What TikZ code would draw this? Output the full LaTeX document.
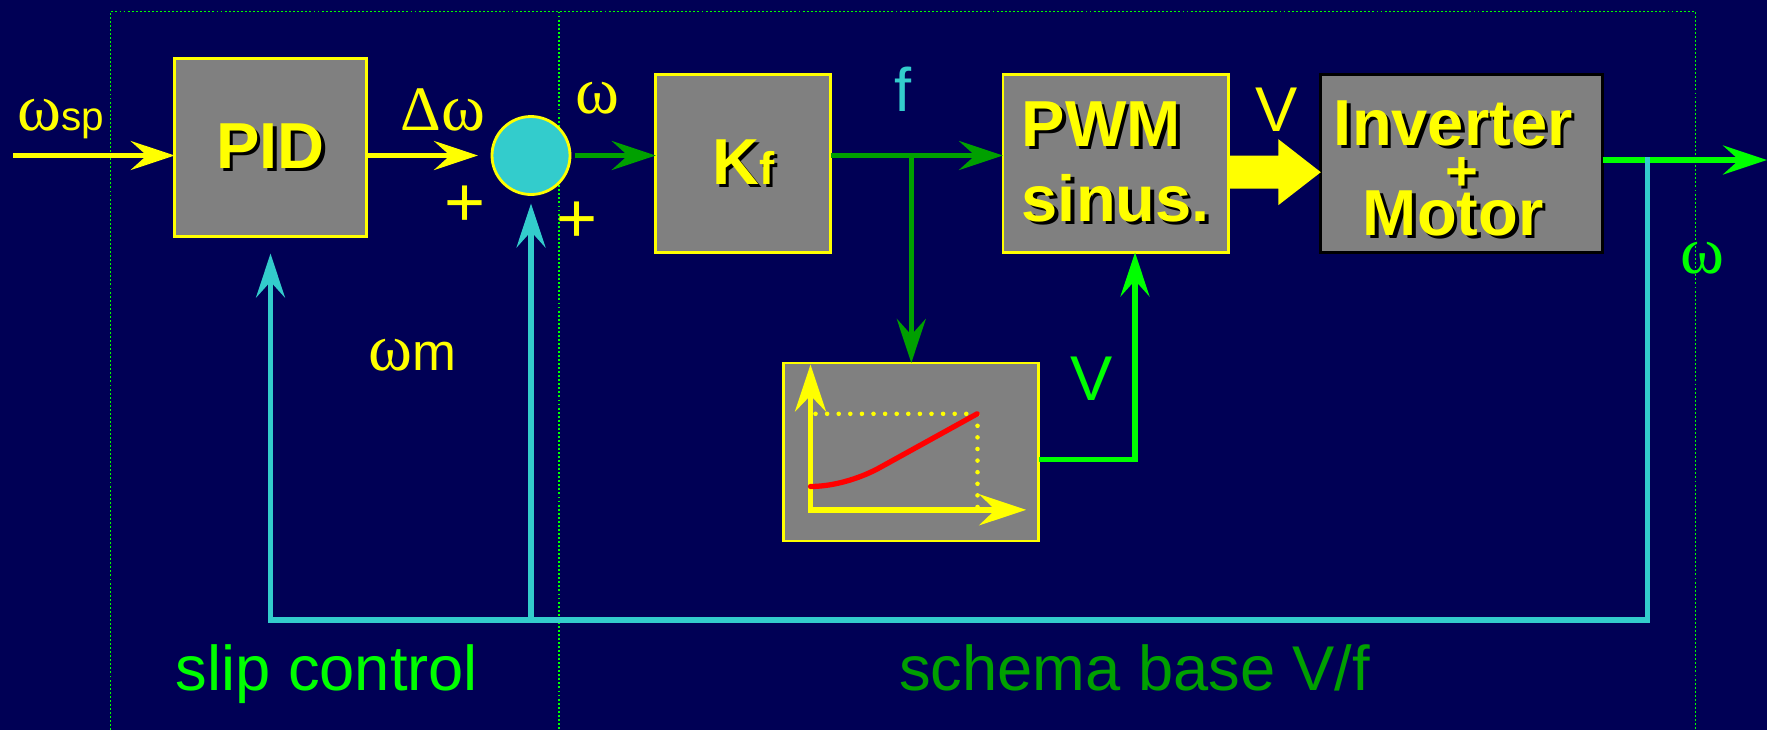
\documentclass[tikz,border=0pt]{standalone}
\usepackage{fontspec}
\setmainfont{Liberation Sans}
\newfontfamily\grk{Liberation Serif}
\usepackage{xcolor}
\definecolor{bgcolor}{HTML}{000055}
\definecolor{ylw}{HTML}{FFFF00}
\definecolor{boxgray}{HTML}{808080}
\definecolor{sumcyan}{HTML}{33CCCC}
\definecolor{darkgreen}{HTML}{00A000}
\definecolor{brightgreen}{HTML}{00FF00}
\definecolor{curvered}{HTML}{FF0000}
\usetikzlibrary{positioning,arrows.meta,calc}
\newcommand{\setfs}[1]{\fontsize{#1}{#1}\selectfont}
\newcommand{\shad}[1]{\makebox[0pt][l]{\kern1pt\raisebox{-1pt}{\color{black}#1}}#1}
\newcommand{\tightlines}{\setlength{\lineskiplimit}{-50pt}}
\tikzset{
    block/.style={
        rectangle,
        draw=ylw,
        fill=boxgray,
        text=ylw,
        minimum height=1.78cm,
        align=center,
        line width=0.8pt,
        inner sep=0pt,
        outer sep=0pt,
        font=\fontsize{18.5}{21.3}\selectfont\bfseries,
    },
    sumnode/.style={
        circle,
        draw=ylw,
        fill=sumcyan,
        minimum size=0.78cm,
        line width=0.8pt,
        inner sep=0pt,
        outer sep=0pt,
    },
    yarrow/.style={
        ->,
        line width=1.45pt,
        ylw,
    },
    garrow/.style={
        ->,
        line width=1.45pt,
        darkgreen,
    },
    barrow/.style={
        ->,
        line width=1.45pt,
        brightgreen,
    },
    fback/.style={
        line width=1.45pt,
        sumcyan,
    },
    frame/.style={
        draw=brightgreen,
        line width=0.45pt,
        dash pattern=on 0.55pt off 0.6pt,
    },
    lbl/.style={
        inner sep=0pt,
        font=\setfs{18},
    },
}

\begin{document}
\begin{tikzpicture}[>={Stealth[length=4.4mm,width=2.9mm,inset=1.6mm]}]
    \useasboundingbox (0,0) rectangle (17.67,-7.30);
    \fill[bgcolor] (0,0) rectangle (17.67,-7.30);

    % Frames
    \draw[frame] (1.105,-7.30) |- (16.956,-0.115) -- (16.956,-7.30);
    \draw[frame] (5.592,-0.115) -- (5.592,-7.30);

    % Blocks
    \node[block, minimum width=1.75cm] (kf) at (7.433,-1.634) {\shad{K\setfs{13}f}};
    \node[block, minimum width=2.254cm, right=1.722cm of kf, align=left] (pwm) {\shad{PWM}\\\shad{sinus.}};
    \node[block, draw=black, minimum width=2.818cm, right=0.924cm of pwm,
          font={\fontsize{18.5}{12.8}\selectfont\bfseries\tightlines}]
          (inv) {\rule{0pt}{0.58cm}\shad{Inverter}\hspace*{0.17cm}\\{\setfs{16}\shad{+}}\hspace*{0.17cm}\\\shad{Motor}\hspace*{0.17cm}};
    \node[sumnode, left=0.858cm of kf, yshift=0.079cm] (sum) {};
    \node[block, minimum width=1.916cm, left=1.257cm of sum, yshift=0.079cm] (pid) {\shad{PID}};
    \node[block, minimum width=2.55cm, below=1.105cm of kf, xshift=1.68cm] (vf) {};

    % V/f curve
    \begin{scope}[shift={(vf.center)}]
        \draw[ylw, line width=1.3pt, line cap=round, dash pattern=on 0pt off 3.3pt] (-0.958,0.381) -- (0.662,0.381) -- (0.662,-0.579);
        \draw[ylw, line width=1.6pt, <->, >={Stealth[length=4.7mm,width=3.1mm,inset=1.6mm]}] (-1.008,0.874) -- (-1.008,-0.579) -- (1.149,-0.579);
        \draw[curvered, line width=1.5pt, line cap=round] (-1.008,-0.346) .. controls (-0.75,-0.345) and (-0.48,-0.25) .. (-0.308,-0.153) -- (0.659,0.381);
    \end{scope}

    % Connections
    \coordinate (win) at (0.135,-1.555);
    \draw[yarrow] (win) -- (win -| pid.west);
    \draw[yarrow, shorten >=0.14cm] (pid.east |- sum) -- (sum.west);
    \draw[garrow, shorten <=0.05cm] (sum.east) -- (kf.west |- sum);
    \draw[garrow] (kf.east |- sum) -- (pwm.west |- sum);
    \coordinate (split) at (vf.north |- sum);
    \draw[garrow] (split) -- (vf.north);
    \coordinate (vtap) at (11.35,-4.598);
    \draw[barrow] (vf.east |- vtap) -| (pwm.south -| vtap);
    \fill[ylw] ($(pwm.east)+(0,0.077)$) -- ++(0.50,0) -- ++(0,0.165) -- ($(inv.west)+(0,-0.088)$)
        -- ++(-0.425,-0.33) -- ++(0,0.165) -- ($(pwm.east)+(0,-0.253)$) -- cycle;
    \coordinate (wout) at (17.67,-1.60);
    \draw[barrow] (inv.east |- wout) -- (wout);

    % Feedback
    \coordinate (tap) at (16.474,-1.57);
    \coordinate (fb) at (16.474,-6.20);
    \draw[fback, ->, shorten >=0.17cm] (tap) -- (fb) -| (pid.south);
    \draw[fback, ->, shorten >=0.09cm] (fb -| sum) -- (sum.south);

    % Labels
    \node[lbl, anchor=base west, text=ylw] (lwsp) at (0.17,-1.30) {{\grk\setfs{19}ω}{\setfs{11.5}sp}};
    \node[lbl, anchor=base west, text=ylw] (ldw) at (4.00,-1.30) {{\grk\setfs{18}Δ}{\grk\setfs{19}ω}};
    \node[lbl, text=ylw] (lp1) at (4.65,-2.06) {\setfs{20}+};
    \node[lbl, text=ylw] (lp2) at (5.77,-2.22) {\setfs{20}+};
    \node[lbl, anchor=base, text=ylw] (lw) at (5.97,-1.13) {\grk\setfs{19}ω};
    \node[lbl, anchor=base, text=sumcyan] (lf) at (9.027,-1.117) {\setfs{17.5}f};
    \node[lbl, anchor=base, text=ylw] (lv) at (12.77,-1.317) {V};
    \node[lbl, anchor=base, text=brightgreen] (lwo) at (17.02,-2.73) {\grk\setfs{19}ω};
    \node[lbl, anchor=base west, text=ylw] (lwm) at (3.68,-3.70) {{\grk\setfs{19}ω}{\setfs{15}m}};
    \node[lbl, anchor=base, text=brightgreen] (lvg) at (10.92,-4.007) {V};
    \node[lbl, anchor=base, text=brightgreen] (lslip) at (3.268,-6.90) {slip control};
    \node[lbl, anchor=base, text=darkgreen] (lbase) at (11.346,-6.90) {schema base V/f};
\end{tikzpicture}
\end{document}
